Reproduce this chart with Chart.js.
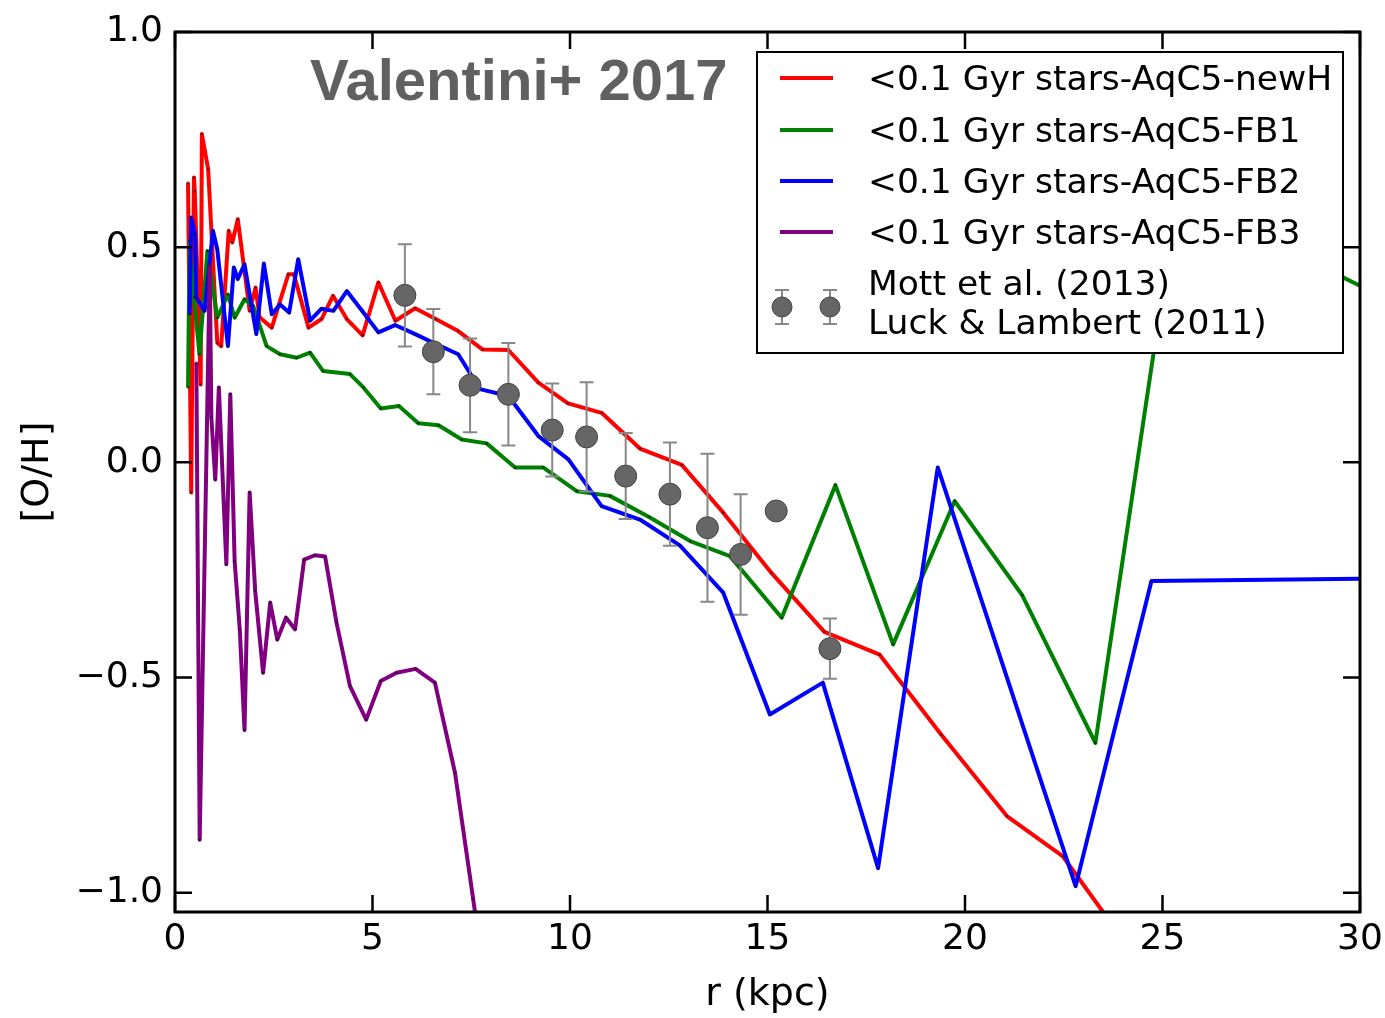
<!DOCTYPE html>
<html>
<head>
<meta charset="utf-8">
<title>[O/H] radial gradient</title>
<script src="https://cdn.jsdelivr.net/npm/chart.js@4.4.1/dist/chart.umd.min.js"></script>
<style>
  html, body { margin: 0; padding: 0; background: #fff; }
  canvas { display: block; }
</style>
</head>
<body>
<canvas id="gradientChart" width="1385" height="1018"></canvas>
<script>
// radius (kpc) and [O/H] for each run
const redR = [0.33, 0.41, 0.48, 0.50, 0.65, 0.68, 0.84, 1.07, 1.17, 1.36, 1.45, 1.59, 1.89, 2.04, 2.14, 2.45, 2.87, 3.01, 3.38, 3.71, 4.00, 4.35, 4.75, 5.15, 5.58, 6.08, 6.60, 7.17, 7.79, 8.44, 9.20, 9.95, 10.80, 11.77, 12.83, 13.88, 15.10, 16.44, 17.84, 19.40, 21.06, 22.48, 24.30];
const redOH = [0.650, -0.07, 0.662, 0.63, 0.181, 0.763, 0.681, 0.278, 0.27, 0.538, 0.511, 0.565, 0.352, 0.406, 0.337, 0.313, 0.437, 0.437, 0.313, 0.333, 0.387, 0.333, 0.295, 0.418, 0.329, 0.358, 0.333, 0.305, 0.262, 0.261, 0.185, 0.137, 0.115, 0.032, -0.006, -0.117, -0.257, -0.394, -0.447, -0.633, -0.822, -0.916, -1.147];

const greenR = [0.33, 0.37, 0.48, 0.62, 0.82, 1.07, 1.34, 1.51, 1.76, 1.98, 2.32, 2.66, 3.08, 3.42, 3.75, 4.43, 4.77, 5.21, 5.67, 6.16, 6.67, 7.26, 7.89, 8.61, 9.32, 10.17, 11.01, 12.00, 13.04, 14.05, 15.36, 16.72, 18.18, 19.74, 21.45, 23.30, 25.37, 32.0];
const greenOH = [0.174, 0.515, 0.383, 0.251, 0.491, 0.336, 0.39, 0.336, 0.379, 0.363, 0.27, 0.251, 0.243, 0.255, 0.212, 0.205, 0.174, 0.125, 0.131, 0.091, 0.086, 0.053, 0.044, -0.012, -0.012, -0.067, -0.078, -0.127, -0.183, -0.218, -0.361, -0.053, -0.423, -0.09, -0.309, -0.652, 0.62, 0.32];

const blueR = [0.37, 0.41, 0.51, 0.54, 0.75, 0.96, 1.07, 1.34, 1.49, 1.59, 1.76, 2.06, 2.25, 2.45, 2.66, 2.89, 3.12, 3.42, 3.71, 4.01, 4.35, 4.77, 5.15, 5.57, 6.08, 6.54, 7.17, 7.72, 8.44, 9.20, 9.96, 10.80, 11.77, 12.78, 13.88, 15.06, 16.40, 17.80, 19.31, 22.80, 24.72, 30.5];
const blueOH = [0.344, 0.569, 0.530, 0.383, 0.352, 0.538, 0.495, 0.27, 0.453, 0.426, 0.46, 0.298, 0.462, 0.344, 0.367, 0.348, 0.472, 0.329, 0.357, 0.352, 0.398, 0.348, 0.302, 0.319, 0.298, 0.278, 0.251, 0.17, 0.154, 0.061, 0.007, -0.102, -0.133, -0.193, -0.303, -0.586, -0.512, -0.943, -0.012, -0.985, -0.276, -0.27];

const purpleR = [0.54, 0.625, 0.88, 0.92, 1.02, 1.11, 1.30, 1.40, 1.51, 1.64, 1.76, 1.89, 2.03, 2.23, 2.41, 2.59, 2.81, 3.04, 3.27, 3.54, 3.80, 4.09, 4.43, 4.84, 5.21, 5.61, 6.09, 6.58, 7.09, 7.55, 7.90];
const purpleOH = [0.232, -0.877, 0.457, 0.104, -0.04, 0.174, -0.237, 0.158, -0.23, -0.388, -0.622, -0.07, -0.299, -0.489, -0.326, -0.412, -0.361, -0.388, -0.226, -0.216, -0.219, -0.373, -0.520, -0.598, -0.508, -0.489, -0.48, -0.512, -0.722, -1.016, -1.24];

// Cepheid observations (Mott et al. 2013 / Luck & Lambert 2011)
const obsR = [5.82, 6.54, 7.47, 8.44, 9.55, 10.42, 11.41, 12.53, 13.48, 14.32, 15.22, 16.58];
const obsOH = [0.388, 0.257, 0.179, 0.158, 0.075, 0.059, -0.032, -0.074, -0.152, -0.214, -0.113, -0.433];
const obsErr = [0.119, 0.099, 0.109, 0.119, 0.108, 0.127, 0.10, 0.12, 0.172, 0.14, null, 0.07];

const seriesNames = [
    '<0.1 Gyr stars-AqC5-newH',
    '<0.1 Gyr stars-AqC5-FB1',
    '<0.1 Gyr stars-AqC5-FB2',
    '<0.1 Gyr stars-AqC5-FB3'
];
const obsNames = ['Mott et al. (2013)', 'Luck & Lambert (2011)'];
const seriesColors = ['#ff0000', '#008000', '#0000ff', '#800080'];

const xTickValues = [0, 5, 10, 15, 20, 25, 30];
const yTickValues = [-1.0, -0.5, 0.0, 0.5, 1.0];

const FONT = '"DejaVu Sans", sans-serif';

function toPoints(xs, ys) {
    return xs.map((x, i) => ({ x: x, y: ys[i] }));
}

function lineSet(label, xs, ys, color, order) {
    return {
        type: 'line',
        label: label,
        data: toPoints(xs, ys),
        borderColor: color,
        backgroundColor: color,
        borderWidth: 4,
        borderJoinStyle: 'round',
        tension: 0,
        fill: false,
        pointRadius: 1.3,
        pointBorderWidth: 0,
        pointBackgroundColor: 'rgba(0, 0, 0, 0.55)',
        order: order
    };
}

const OBS_INDEX = 4;

// error bars go under the grey markers
const errorBars = {
    id: 'errorBars',
    beforeDatasetDraw(chart, args) {
        if (args.index !== OBS_INDEX) return;
        const { ctx, scales: { x, y } } = chart;
        ctx.save();
        ctx.strokeStyle = '#888888';
        ctx.lineWidth = 2;
        obsR.forEach((r, i) => {
            const e = obsErr[i];
            if (e == null) return;
            const px = x.getPixelForValue(r);
            const top = y.getPixelForValue(obsOH[i] + e);
            const bot = y.getPixelForValue(obsOH[i] - e);
            ctx.beginPath();
            ctx.moveTo(px, top); ctx.lineTo(px, bot);
            ctx.moveTo(px - 7, top); ctx.lineTo(px + 7, top);
            ctx.moveTo(px - 7, bot); ctx.lineTo(px + 7, bot);
            ctx.stroke();
        });
        ctx.restore();
    }
};

// title, legend box, inward ticks and frame (matplotlib look)
const decorations = {
    id: 'decorations',
    afterDatasetsDraw(chart) {
        const { ctx, chartArea: a, scales: { x, y } } = chart;
        ctx.save();

        // title text
        ctx.fillStyle = '#606060';
        ctx.font = 'bold 58px "Liberation Sans", Arial, sans-serif';
        ctx.textAlign = 'left';
        ctx.textBaseline = 'alphabetic';
        ctx.fillText('Valentini+ 2017', 310, 100);

        // legend
        const lx = 757, ly = 52, lw = 586, lh = 301;
        ctx.fillStyle = '#fff';
        ctx.fillRect(lx, ly, lw, lh);
        ctx.strokeStyle = '#000';
        ctx.lineWidth = 2;
        ctx.strokeRect(lx, ly, lw, lh);

        ctx.font = '34.5px ' + FONT;
        ctx.textBaseline = 'middle';
        ctx.fillStyle = '#000';
        const rows = [78, 130, 181, 232];
        seriesNames.forEach((name, i) => {
            ctx.strokeStyle = seriesColors[i];
            ctx.lineWidth = 4;
            ctx.beginPath();
            ctx.moveTo(780, rows[i]);
            ctx.lineTo(833, rows[i]);
            ctx.stroke();
            ctx.fillText(name, 868, rows[i] + 3);
        });
        [782, 830].forEach(mx => {
            ctx.strokeStyle = '#888888';
            ctx.lineWidth = 2;
            ctx.beginPath();
            ctx.moveTo(mx, 290); ctx.lineTo(mx, 324);
            ctx.moveTo(mx - 7, 290); ctx.lineTo(mx + 7, 290);
            ctx.moveTo(mx - 7, 324); ctx.lineTo(mx + 7, 324);
            ctx.stroke();
            ctx.beginPath();
            ctx.arc(mx, 307, 10, 0, Math.PI * 2);
            ctx.fillStyle = '#666666';
            ctx.fill();
            ctx.strokeStyle = '#444444';
            ctx.lineWidth = 1;
            ctx.stroke();
        });
        ctx.fillStyle = '#000';
        ctx.fillText(obsNames[0], 868, 286);
        ctx.fillText(obsNames[1], 868, 325);

        // inward ticks on all four sides
        ctx.strokeStyle = '#000';
        ctx.lineWidth = 2.5;
        ctx.beginPath();
        xTickValues.forEach(v => {
            const px = x.getPixelForValue(v);
            ctx.moveTo(px, a.bottom); ctx.lineTo(px, a.bottom - 17);
            ctx.moveTo(px, a.top); ctx.lineTo(px, a.top + 17);
        });
        yTickValues.forEach(v => {
            const py = y.getPixelForValue(v);
            ctx.moveTo(a.left, py); ctx.lineTo(a.left + 17, py);
            ctx.moveTo(a.right, py); ctx.lineTo(a.right - 17, py);
        });
        ctx.stroke();

        ctx.lineWidth = 3;
        ctx.strokeRect(a.left, a.top, a.right - a.left, a.bottom - a.top);
        ctx.restore();
    }
};

const ctx = document.getElementById('gradientChart');

new Chart(ctx, {
    type: 'line',
    data: {
        datasets: [
            lineSet(seriesNames[0], redR, redOH, seriesColors[0], 4),
            lineSet(seriesNames[1], greenR, greenOH, seriesColors[1], 3),
            lineSet(seriesNames[2], blueR, blueOH, seriesColors[2], 2),
            lineSet(seriesNames[3], purpleR, purpleOH, seriesColors[3], 1),
            {
                type: 'scatter',
                label: obsNames.join(' / '),
                data: toPoints(obsR, obsOH),
                showLine: false,
                pointRadius: 11,
                pointBackgroundColor: '#666666',
                pointBorderColor: '#444444',
                pointBorderWidth: 1,
                order: 0
            }
        ]
    },
    options: {
        responsive: false,
        animation: false,
        events: [],
        layout: {
            padding: { top: 32, right: 25, left: 0, bottom: 0 }
        },
        plugins: {
            legend: { display: false },
            tooltip: { enabled: false }
        },
        scales: {
            x: {
                type: 'linear',
                min: 0,
                max: 30,
                afterBuildTicks: (scale) => {
                    scale.ticks = xTickValues.map(v => ({ value: v }));
                },
                afterFit: (scale) => {
                    scale.height = 106;
                    scale.paddingLeft = 0;
                    scale.paddingRight = 0;
                },
                ticks: {
                    color: '#000',
                    padding: 6,
                    maxRotation: 0,
                    font: { family: FONT, size: 36 },
                    callback: (v) => String(v)
                },
                grid: { drawOnChartArea: false, drawTicks: false },
                border: { display: false },
                title: {
                    display: true,
                    text: 'r (kpc)',
                    color: '#000',
                    font: { family: FONT, size: 38 },
                    padding: { top: 0, bottom: 0 }
                }
            },
            y: {
                type: 'linear',
                min: -1.045,
                max: 1.0,
                afterBuildTicks: (scale) => {
                    scale.ticks = yTickValues.map(v => ({ value: v }));
                },
                afterFit: (scale) => {
                    scale.width = 175;
                    scale.paddingTop = 0;
                    scale.paddingBottom = 0;
                },
                ticks: {
                    color: '#000',
                    padding: 12,
                    font: { family: FONT, size: 36 },
                    callback: (v) => v.toFixed(1).replace('-', '\u2212')
                },
                grid: { drawOnChartArea: false, drawTicks: false },
                border: { display: false },
                title: {
                    display: true,
                    text: '[O/H]',
                    color: '#000',
                    font: { family: FONT, size: 38 },
                    padding: { top: 15, bottom: 0 }
                }
            }
        }
    },
    plugins: [errorBars, decorations]
});
</script>
</body>
</html>
